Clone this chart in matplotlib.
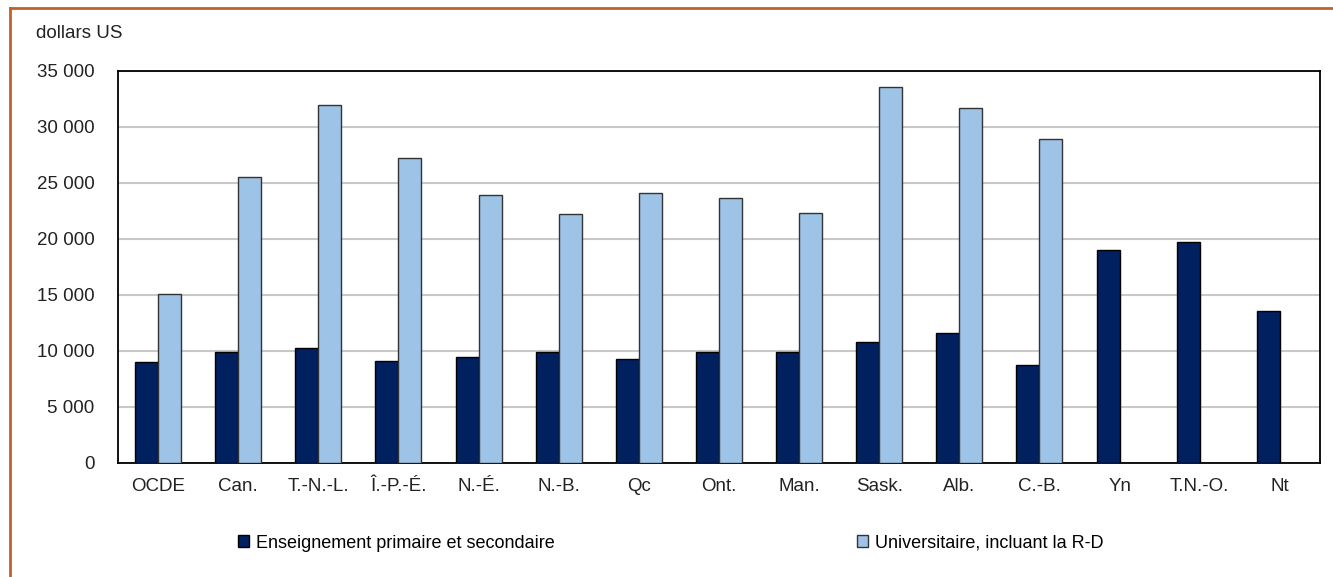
import matplotlib.pyplot as plt
import numpy as np
from matplotlib.lines import Line2D
from matplotlib.patches import Patch

plt.rcParams['font.family'] = ['Liberation Sans', 'DejaVu Sans']

regions = ['OCDE', 'Can.', 'T.-N.-L.', 'Î.-P.-É.', 'N.-É.', 'N.-B.', 'Qc',
           'Ont.', 'Man.', 'Sask.', 'Alb.', 'C.-B.', 'Yn', 'T.N.-O.', 'Nt']
primaire = [9000, 9900, 10270, 9080, 9500, 9900, 9300, 9950, 9900,
            10800, 11580, 8780, 19050, 19730, 13540]
universitaire = [15100, 25500, 31950, 27250, 23950, 22200, 24100, 23650, 22300,
                 33600, 31650, 28900, np.nan, np.nan, np.nan]
yticks = [0, 5000, 10000, 15000, 20000, 25000, 30000, 35000]

col_dark = '#002060'
col_light = '#9DC3E6'
fs = 13.5

fig = plt.figure(figsize=(13.33, 5.77), dpi=100)
ax = fig.add_axes([0.0885, 0.1976, 0.9017, 0.6794])

x = np.arange(len(regions))
w = 0.287
ax.bar(x - w / 2, primaire, w, color=col_dark, edgecolor='black', linewidth=1, zorder=3)
ax.bar(x + w / 2, universitaire, w, color=col_light, edgecolor='#333333', linewidth=1, zorder=3)

ax.set_xlim(-0.5, len(regions) - 0.5)
ax.set_ylim(0, 35000)
ax.set_yticks(yticks)
ax.set_yticklabels([f'{v:,}'.replace(',', ' ') for v in yticks])
ax.set_xticks(x)
ax.set_xticklabels(regions)
ax.tick_params(axis='both', length=0, labelsize=fs, colors='#222222')
ax.tick_params(axis='y', pad=17)
ax.tick_params(axis='x', pad=11)
ax.yaxis.grid(True, color='#C8C8C8', linewidth=1.5, zorder=0)
ax.set_axisbelow(True)
for s in ax.spines.values():
    s.set_color('black')
    s.set_linewidth(1.3)

fig.text(36 / 1333, 1 - 33 / 577, 'dollars US', fontsize=fs, va='center', ha='left', color='#222222')

# legende en deux blocs separes
h1 = Patch(facecolor=col_dark, edgecolor='black', linewidth=1)
h2 = Patch(facecolor=col_light, edgecolor='#333333', linewidth=1)
fig.legend([h1], ['Enseignement primaire et secondaire'], loc='center left',
           bbox_to_anchor=(222 / 1333, 1 - 543 / 577), frameon=False, fontsize=13,
           handlelength=0.6, handleheight=0.6, handletextpad=0.4)
fig.legend([h2], ['Universitaire, incluant la R-D'], loc='center left',
           bbox_to_anchor=(841 / 1333, 1 - 543 / 577), frameon=False, fontsize=13,
           handlelength=0.6, handleheight=0.6, handletextpad=0.4)

# cadre orange (haut et gauche)
fig.add_artist(Line2D([10 / 1333, 1], [1 - 8 / 577, 1 - 8 / 577], transform=fig.transFigure,
                      color='#C0622B', linewidth=2))
fig.add_artist(Line2D([10 / 1333, 10 / 1333], [0, 1 - 8 / 577], transform=fig.transFigure,
                      color='#C0622B', linewidth=2))

fig.savefig('out.png', dpi=100)
